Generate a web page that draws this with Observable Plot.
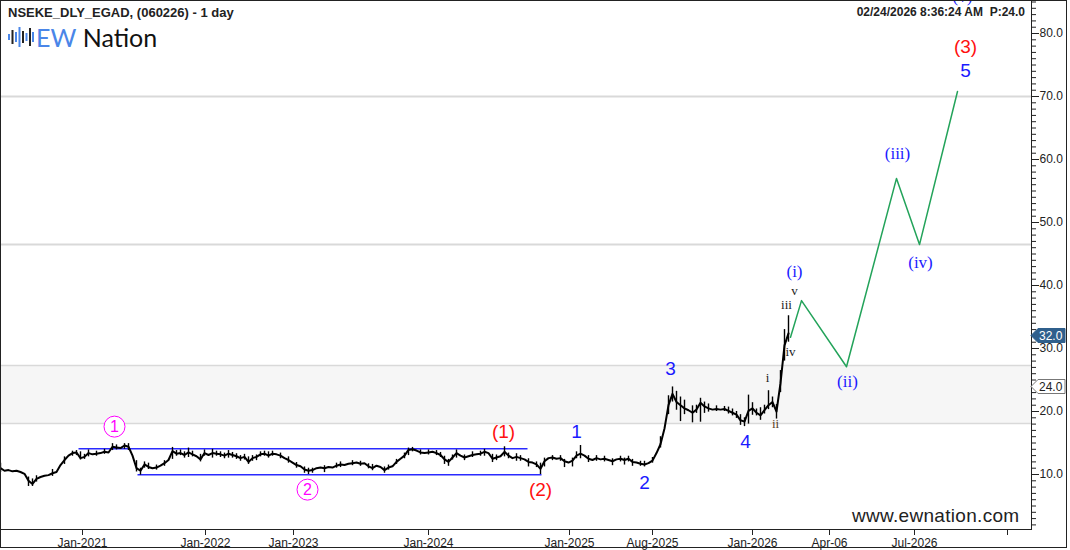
<!DOCTYPE html>
<html><head><meta charset="utf-8">
<script src="https://cdn.jsdelivr.net/npm/d3@7"></script>
<script src="https://cdn.jsdelivr.net/npm/@observablehq/plot@0.6"></script>
<style>
body{margin:0;background:#fff;}
#wrap{position:relative;width:1070px;height:550px;overflow:hidden;font-family:"Liberation Sans",Arial,sans-serif;background:#fff;}
#border{position:absolute;left:0;top:0;width:1065px;height:546px;border:1px solid #222;pointer-events:none;}
#title{position:absolute;left:8px;top:5px;font-weight:bold;font-size:13px;color:#222;}
#logo{position:absolute;left:8px;top:22px;display:flex;align-items:center;font-family:Lato,"Liberation Sans",sans-serif;font-size:25px;color:#111;}
#logo .ew{color:#4a86e8;margin-left:2px;}
#stamp{position:absolute;right:45px;top:5px;font-weight:bold;font-size:12px;color:#222;}
#web{position:absolute;left:848px;top:505px;background:#fff;padding:0 4px;font-size:19px;color:#222;letter-spacing:0.3px;line-height:22px;}
</style></head>
<body>
<div id="wrap">
<div id="chart"></div>
<div id="title">NSEKE_DLY_EGAD, (060226) - 1 day</div>
<div id="logo"><svg width="26" height="22" viewBox="0 0 26 22"><g>
<rect x="0" y="8" width="2" height="6" fill="#4a86e8"/><rect x="3.5" y="4" width="2" height="14" fill="#222"/>
<rect x="7" y="6" width="2" height="10" fill="#4a86e8"/><rect x="10.5" y="1" width="2" height="20" fill="#4a86e8"/>
<rect x="14" y="5" width="2" height="12" fill="#222"/><rect x="17.5" y="7" width="2" height="8" fill="#4a86e8"/>
<rect x="21" y="2" width="2" height="18" fill="#222"/><rect x="24" y="6" width="2" height="10" fill="#4a86e8"/></g></svg><span class="ew">EW</span>&nbsp;<span>Nation</span></div>
<div id="stamp">02/24/2026 8:36:24 AM&nbsp;&nbsp;P:24.0</div>
<div id="web">www.ewnation.com</div>
<div id="border"></div>
</div>
<script>
// ---- data (bar index units; one sample per bar slot) ----
const closes = [
11.0,10.6,10.7,10.5,10.6,10.4,10.1,9.0,8.5,9.3,
9.6,9.8,9.9,10.2,10.4,11.5,12.3,13.0,13.4,13.5,
12.6,12.8,13.4,13.2,13.3,13.4,13.6,13.5,14.4,14.3,
14.2,14.6,14.4,13.0,11.0,10.6,11.6,11.2,11.0,11.1,
11.4,11.8,12.3,13.7,13.3,13.4,13.1,13.5,13.2,12.9,
12.4,13.4,13.1,13.4,13.3,13.2,13.0,13.3,13.1,12.9,
12.6,12.8,12.0,12.6,12.8,13.2,13.3,13.0,13.3,13.2,
13.0,12.6,12.3,11.9,11.5,11.3,10.8,10.6,10.7,11.0,
11.1,11.0,11.2,11.1,11.4,11.6,11.5,11.7,11.8,11.9,
11.7,11.8,11.3,11.0,11.4,11.2,10.7,11.1,11.3,12.0,
12.5,13.0,13.9,14.0,13.8,13.5,13.4,13.5,13.6,13.4,
13.1,12.4,12.0,12.7,13.4,13.0,12.7,12.9,13.1,13.2,
13.3,13.6,13.4,12.5,12.7,12.9,13.6,13.0,12.6,12.8,
12.6,12.4,12.0,11.9,11.6,10.9,12.1,12.6,12.7,12.5,
12.6,12.1,11.9,12.2,13.0,13.3,13.0,12.5,12.3,12.6,
12.4,12.5,12.3,12.1,12.4,12.5,12.3,12.5,12.0,11.9,
11.7,11.6,11.8,12.2,13.4,14.8,17.3,21.0,22.8,21.5,
21.0,20.5,20.2,19.8,20.3,21.4,20.8,20.5,20.3,20.4,
20.3,20.4,20.1,19.8,19.5,18.6,18.4,20.1,20.5,19.8,
19.4,20.2,21.0,21.5,20.0,24.5,30.5,32.4
];
// [bar, low, high] for visible bar ranges
const wicks = [
[0,10.3,11.8],[7,8.1,9.6],[8,8.1,9.3],[9,8.8,9.8],[13,9.7,10.8],[16,11.6,12.8],[18,12.9,13.7],[19,13.0,13.8],
[20,12.3,13.6],[21,12.4,13.2],[22,12.8,13.9],[24,12.9,13.7],[26,13.2,14.0],[28,13.8,14.9],[29,13.9,14.7],
[31,14.0,14.9],[32,13.8,14.9],[34,10.4,12.2],[35,9.9,11.0],[36,11.0,12.0],[37,10.8,11.8],[39,10.7,11.5],
[41,11.3,12.2],[43,12.4,14.3],[44,12.9,13.8],[45,13.0,13.9],[46,12.6,13.6],[47,12.7,14.2],[48,12.8,13.7],
[50,12.0,13.2],[51,12.9,13.9],[53,12.6,14.0],[54,12.9,13.7],[55,12.7,13.6],[56,12.5,13.4],[57,12.6,13.8],
[58,12.6,13.5],[59,12.4,13.3],[60,12.1,13.0],[61,12.3,13.2],[62,11.6,12.8],[63,12.1,13.0],[64,12.2,13.1],
[65,12.8,13.6],[66,12.9,13.7],[67,12.6,13.6],[68,12.9,13.7],[70,12.5,13.4],[72,11.8,12.8],[74,11.0,11.9],
[76,10.2,11.2],[77,10.0,11.0],[78,10.2,11.0],[81,10.3,11.4],[84,11.0,11.8],[85,11.1,12.0],[88,11.4,12.2],
[90,11.3,12.1],[92,10.9,11.7],[93,10.6,11.6],[96,10.2,11.2],[97,10.7,11.5],[99,11.6,12.4],[101,12.5,13.4],
[102,13.0,14.2],[103,13.6,14.3],[105,13.1,13.9],[107,13.1,13.9],[109,13.0,13.8],[110,12.7,13.5],[111,11.6,12.9],
[112,11.3,12.4],[113,12.3,13.1],[114,12.6,13.9],[116,12.2,13.1],[118,12.7,13.6],[120,12.9,13.7],[121,12.9,14.0],
[123,11.9,13.2],[124,12.2,13.1],[126,12.8,14.4],[127,12.5,13.4],[129,12.1,13.3],[130,12.1,13.0],[132,11.2,12.5],
[134,11.1,12.0],[135,10.0,11.8],[136,11.2,12.6],[138,12.2,13.0],[140,12.1,13.0],[141,11.1,12.4],[143,11.2,12.6],
[144,12.5,13.6],[145,12.5,14.6],[147,11.9,13.0],[149,12.1,13.0],[151,12.0,12.9],[153,11.4,12.5],[155,12.0,12.9],
[156,11.5,12.6],[157,12.0,12.9],[158,11.3,12.4],[160,11.3,12.1],[161,11.2,12.1],[163,11.8,12.7],[165,14.2,16.0],
[167,19.5,22.5],[168,21.5,23.9],[169,20.2,23.2],[170,18.4,22.3],[171,19.5,21.8],[173,18.2,20.9],[174,19.7,21.0],
[175,18.3,22.1],[176,19.7,21.5],[177,19.9,21.2],[179,20.0,20.9],[181,20.0,20.8],[182,19.6,20.7],[183,19.3,20.4],
[184,18.9,20.0],[185,17.8,19.5],[186,17.6,19.0],[187,18.0,22.6],[188,19.4,21.4],[189,19.3,20.4],[190,18.6,20.6],
[191,19.6,21.0],[192,20.3,23.3],[193,20.6,22.3],[194,18.8,21.1],[195,23.0,26.5],[196,28.0,33.0],[197,31.0,35.2]
];
// projected wave path
const projBar = [197.5, 200.25, 211.5, 224, 229.75, 239.25];
const projVal = [31.8, 37.6, 27.1, 57.0, 46.5, 70.8];
// channel lines [barStart, barEnd, value]
const channels = [[19.5, 131.75, 14.08], [34.25, 135.25, 9.95]];
// levels
const levels = [70.0, 46.5];
const zoneLow = 18.1, zoneHigh = 27.3;
// x ticks
const tickBars = [20.5, 51.25, 73.25, 107, 142.25, 163, 188, 207.25, 228.5, 251.75];
const tickLabels = ["Jan-2021","Jan-2022","Jan-2023","Jan-2024","Jan-2025","Aug-2025","Jan-2026","Apr-06","Jul-2026",""];
const yMajor = [10,20,30,40,50,60,70,80];
// labels
const blueText = ["1","2","3","4","5"], blueBar = [144,161,167.5,186.25,241.25], blueVal = [16.7,8.6,26.7,15.2,74.0];
const redText = ["(1)","(2)","(3)"], redBar = [125.75,135,241.25], redVal = [16.8,7.6,77.8];
const minorText = ["(i)","(ii)","(iii)","(iv)","(v)"], minorBar = [198.5,211.75,224.25,230,240.5], minorVal = [42.2,24.8,61.0,43.7,85.9];
const subText = ["i","ii","iii","iv","v"], subBar = [191.75,193.75,196.5,197.5,198.5], subVal = [25.4,18.1,37.0,29.5,39.2];
const subColor = ["#222","#5a4326","#222","#222","#222"];
const circText = ["1","2"], circBar = [28.5,76.75], circVal = [17.6,7.6];
const lastPrice = 32.0, prevPrice = 24.0;

const yMin = 1.27, yMax = 85.24;
const bars = closes.map((c,i)=>({i,c}));
const wk = wicks.map(([i,lo,hi])=>({i,lo,hi}));
const proj = projBar.map((b,k)=>({b,v:projVal[k]}));
const ch = channels.map(([a,b,v])=>({a,b,v}));
const lab = (t,b,v)=>t.map((s,k)=>({s,b:b[k],v:v[k],k}));
const labelMap = new Map(tickBars.map((b,k)=>[b,tickLabels[k]]));
const serif = '"Liberation Serif","Times New Roman",serif';
const sans = '"Liberation Sans",Arial,sans-serif';

function tag(value, fill, stroke, color){
  return (index, scales, values, dims) => {
    const y = Math.round(scales.y(value)) + 0.5;
    const x0 = dims.width - dims.marginRight;
    const g = d3.create("svg:g");
    g.append("path").attr("d", `M${x0},${y} L${x0+7},${y-7} H${x0+34} V${y+7} H${x0+7} Z`)
      .attr("fill", fill).attr("stroke", stroke).attr("stroke-width", 1);
    g.append("text").attr("x", x0+8).attr("y", y).attr("dy","0.36em").attr("text-anchor","start")
      .attr("fill", color).attr("font-size", 12).attr("font-family", sans).text(value.toFixed(1));
    return g.node();
  };
}

const chart = Plot.plot({
  width:1070, height:550, marginLeft:0, marginRight:39, marginTop:0, marginBottom:21,
  x:{domain:[0,257.75], axis:null},
  y:{domain:[yMin,yMax], axis:null},
  style:{fontFamily:sans, fontSize:"12px", color:"#222", background:"transparent"},
  marks:[
    Plot.rect([0], {y1:()=>zoneLow, y2:()=>zoneHigh, fill:"#f6f6f6"}),
    Plot.ruleY([zoneLow, zoneHigh], {stroke:"#d9d9d9", strokeWidth:1.5}),
    Plot.ruleY(levels, {stroke:"#d9d9d9", strokeWidth:2}),
    Plot.link(ch, {x1:"a", x2:"b", y1:"v", y2:"v", stroke:"#2a2aff", strokeWidth:1.5}),
    Plot.ruleX(wk, {x:"i", y1:"lo", y2:"hi", stroke:"#000", strokeWidth:1.4}),
    Plot.line(bars, {x:"i", y:"c", stroke:"#000", strokeWidth:2}),
    Plot.line(proj, {x:"b", y:"v", stroke:"#23a35a", strokeWidth:1.5}),
    Plot.text(lab(blueText,blueBar,blueVal), {x:"b", y:"v", text:"s", fill:"#1a1aff", fontSize:19, fontFamily:sans}),
    Plot.text(lab(redText,redBar,redVal), {x:"b", y:"v", text:"s", fill:"#ff1010", fontSize:19, fontFamily:sans}),
    Plot.text(lab(minorText,minorBar,minorVal), {x:"b", y:"v", text:"s", fill:"#1a1aff", fontSize:17, fontFamily:serif}),
    Plot.text(lab(subText,subBar,subVal), {x:"b", y:"v", text:"s", fill:d=>subColor[d.k], fontSize:13, fontFamily:serif}),
    Plot.dot(lab(circText,circBar,circVal), {x:"b", y:"v", r:10.5, stroke:"#ff00ff", fill:"white", strokeWidth:1}),
    Plot.text(lab(circText,circBar,circVal), {x:"b", y:"v", text:"s", fill:"#ff00ff", fontSize:16, fontFamily:sans}),
    Plot.axisY(d3.range(2,86,1), {anchor:"right", tickSize:4, tickFormat:()=>"", stroke:"#222"}),
    Plot.axisY(yMajor, {anchor:"right", tickSize:7, tickPadding:1, tickFormat:d=>d.toFixed(1), fontSize:12, stroke:"#222"}),
    Plot.axisX(tickBars, {anchor:"bottom", tickSize:6, tickPadding:3, tickFormat:d=>labelMap.get(d), fontSize:12, stroke:"#222"}),
    Plot.frame({stroke:"#222"}),
    tag(lastPrice, "#2f5f8c", "#2f5f8c", "#fff"),
    tag(prevPrice, "#fff", "#777", "#222")
  ]
});
document.getElementById("chart").appendChild(chart);
</script>
</body></html>
